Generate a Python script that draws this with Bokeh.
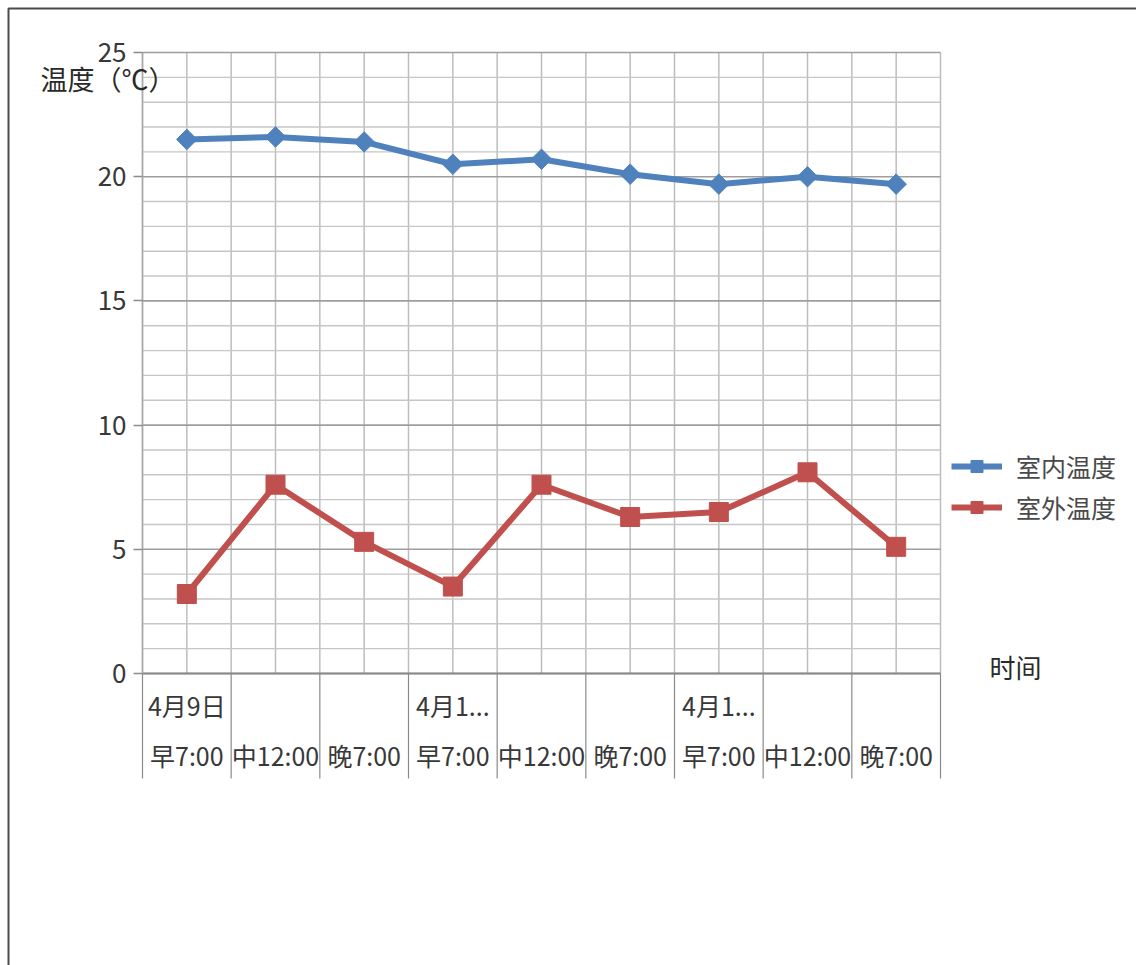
from bokeh.plotting import figure
from bokeh.models import (Range1d, FixedTicker, LinearAxis, Legend, LegendItem,
                          Label, BoxAnnotation)
from bokeh.embed import file_html
from bokeh.resources import INLINE
import numpy as np

# ---- data -------------------------------------------------------------
time_labels = ["早7:00", "中12:00", "晚7:00",
               "早7:00", "中12:00", "晚7:00",
               "早7:00", "中12:00", "晚7:00"]
date_labels = ["4月9日", "4月1...", "4月1..."]
date_start_index = [0, 3, 6]
indoor = [21.5, 21.6, 21.4, 20.5, 20.7, 20.1, 19.7, 20.0, 19.7]
outdoor = [3.2, 7.6, 5.3, 3.5, 7.6, 6.3, 6.5, 8.1, 5.1]
series_names = ["室内温度", "室外温度"]
y_ticks = [0, 5, 10, 15, 20, 25]
y_title = "温度（℃）"
x_title = "时间"

# ---- page geometry (pixels) ------------------------------------------
W, H = 1136, 965
PL, PR, PT, PB = 142, 940, 52, 673      # plot-area box on the page
CJK = "Noto Sans CJK SC"
BLUE = "#4f81bd"
RED = "#c0504d"
TXT = "#383838"

n = len(time_labels)
ymin, ymax = y_ticks[0], y_ticks[-1]
sx = (PR - PL) / n
sy = (PB - PT) / (ymax - ymin)
xs = [i + 0.5 for i in range(n)]

# the frame fills the whole page; the axes are pinned at x=0 / y=0
p = figure(width=W, height=H,
           x_range=Range1d(-PL / sx, n + (W - PR) / sx),
           y_range=Range1d(ymin - (H - PB) / sy, ymax + PT / sy),
           output_backend="svg", toolbar_location=None, min_border=0)
p.outline_line_color = None
p.background_fill_color = "white"
p.border_fill_color = "white"
p.grid.visible = False

# ---- grid lines -------------------------------------------------------
half = [i * 0.5 for i in range(2 * n + 1)]
p.segment(x0=half, y0=[ymin] * len(half), x1=half, y1=[ymax] * len(half),
          line_color="#bdbdbd", line_width=1.5)
minor_y = [v for v in range(ymin, ymax + 1) if v % 5]
p.segment(x0=[0] * len(minor_y), y0=minor_y, x1=[n] * len(minor_y), y1=minor_y,
          line_color="#c6c6c6", line_width=1.4)
p.segment(x0=[0] * len(y_ticks), y0=y_ticks, x1=[n] * len(y_ticks), y1=y_ticks,
          line_color="#9e9e9e", line_width=1.6)

# category separators below the axis, spanning both label rows
edges = list(range(n + 1))
sep_depth = 105 / sy
p.segment(x0=edges, y0=[ymin] * len(edges), x1=edges,
          y1=[ymin - sep_depth] * len(edges),
          line_color="#8a8a8a", line_width=1.2)

# ---- y axis -----------------------------------------------------------
yaxis = p.yaxis[0]
yaxis.fixed_location = 0
yaxis.bounds = (ymin, ymax)
yaxis.ticker = FixedTicker(ticks=y_ticks, minor_ticks=[])
yaxis.axis_line_color = "#a8a8a8"
yaxis.axis_line_width = 1.5
yaxis.major_tick_out = 9
yaxis.major_tick_in = 0
yaxis.major_tick_line_color = "#8c8c8c"
yaxis.major_tick_line_width = 1.5
yaxis.minor_tick_out = 0
yaxis.minor_tick_in = 0
yaxis.major_label_standoff = 7
yaxis.major_label_text_font = CJK
yaxis.major_label_text_font_size = "26px"
yaxis.major_label_text_color = TXT

# ---- category axes (date row, then time row) --------------------------
date_axis = p.xaxis[0]
date_axis.fixed_location = 0
date_axis.bounds = (0, n)
date_axis.ticker = FixedTicker(ticks=[xs[i] for i in date_start_index], minor_ticks=[])
date_axis.major_label_overrides = {xs[i]: lab for i, lab in zip(date_start_index, date_labels)}
date_axis.axis_line_color = "#8a8a8a"
date_axis.axis_line_width = 2
date_axis.major_tick_out = 0
date_axis.major_tick_in = 0
date_axis.major_tick_line_color = None
date_axis.minor_tick_line_color = None
date_axis.major_label_standoff = 13
date_axis.major_label_text_font = CJK
date_axis.major_label_text_font_size = "25px"
date_axis.major_label_text_color = TXT

time_axis = LinearAxis(fixed_location=0, bounds=(0, n),
                       ticker=FixedTicker(ticks=xs, minor_ticks=[]))
time_axis.major_label_overrides = {x: lab for x, lab in zip(xs, time_labels)}
time_axis.axis_line_color = None
time_axis.major_tick_line_color = None
time_axis.major_tick_out = 0
time_axis.major_tick_in = 0
time_axis.minor_tick_line_color = None
time_axis.major_label_standoff = 63
time_axis.major_label_text_font = CJK
time_axis.major_label_text_font_size = "25px"
time_axis.major_label_text_color = TXT
p.add_layout(time_axis, "below")

# ---- series -----------------------------------------------------------
l1 = p.line(xs, indoor, line_color=BLUE, line_width=6)
m1 = p.scatter(xs, indoor, marker="square", angle=np.pi / 4, size=14.5,
               fill_color=BLUE, line_color=BLUE)
l2 = p.line(xs, outdoor, line_color=RED, line_width=6)
m2 = p.scatter(xs, outdoor, marker="square", size=19,
               fill_color=RED, line_color=RED)

legend = Legend(items=[LegendItem(label=series_names[0], renderers=[l1, m1]),
                       LegendItem(label=series_names[1], renderers=[l2, m2])],
                location=(951, 440))
legend.background_fill_alpha = 0
legend.border_line_color = None
legend.padding = 0
legend.margin = 0
legend.spacing = 5
legend.glyph_width = 51
legend.glyph_height = 30
legend.label_height = 30
legend.label_standoff = 14
legend.label_text_font = CJK
legend.label_text_font_size = "25px"
legend.label_text_color = "#4a4a4a"
p.add_layout(legend)

# ---- axis titles ------------------------------------------------------
p.add_layout(Label(x=-1.15, y=23.95, text=y_title, text_font=CJK,
                   text_font_size="27px", text_color="#2a2a2a",
                   text_align="left", text_baseline="middle"))
p.add_layout(Label(x=9.845, y=0.3, text=x_title, text_font=CJK,
                   text_font_size="26px", text_color="#2a2a2a",
                   text_align="center", text_baseline="middle"))

# ---- page frame -------------------------------------------------------
p.add_layout(BoxAnnotation(left=8, right=1400, top=8, bottom=1300,
                           left_units="canvas", right_units="canvas",
                           top_units="canvas", bottom_units="canvas",
                           fill_alpha=0, line_color="#4a4a4a", line_alpha=1,
                           line_width=2))

open("out.html", "w").write(file_html(p, INLINE))
